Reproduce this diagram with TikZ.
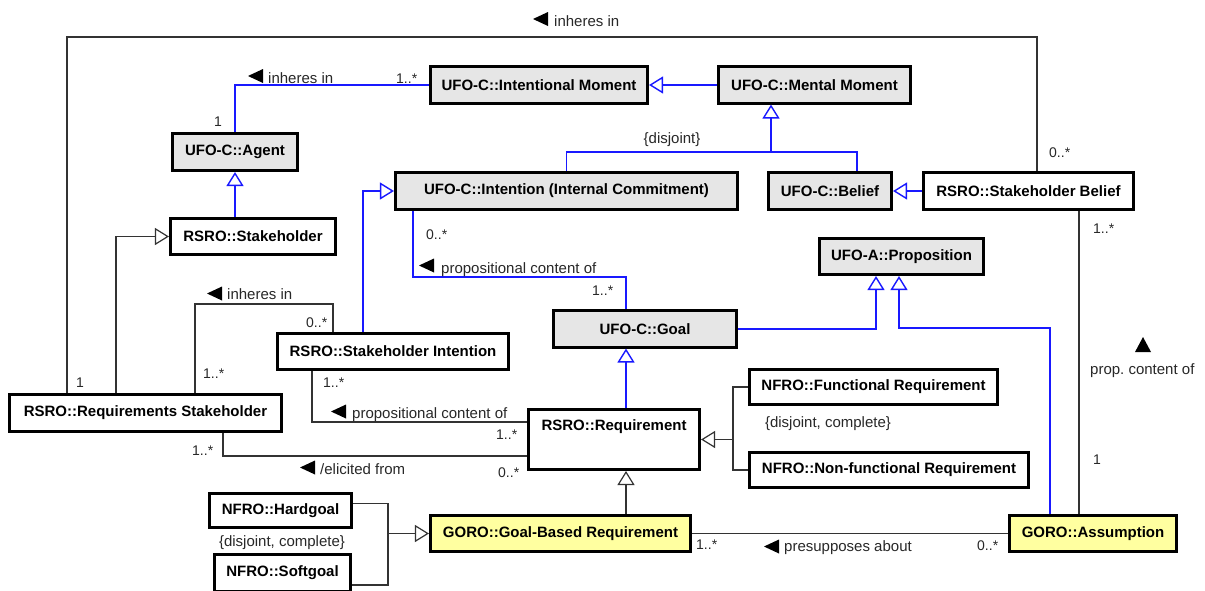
\documentclass[tikz,border=0pt]{standalone}
\usepackage{fontspec}
\setmainfont{Liberation Sans}
\usetikzlibrary{arrows.meta}
\definecolor{umlblue}{RGB}{25,25,255}
\definecolor{boxgray}{RGB}{230,230,230}
\definecolor{goroyellow}{RGB}{255,255,160}
\definecolor{linegray}{RGB}{51,51,51}
\definecolor{textgray}{RGB}{40,40,40}
\frenchspacing

\begin{document}
\begin{tikzpicture}[x=1pt,y=-1pt,
  cls/.style={draw=black, line width=2.6pt, inner sep=0pt, font=\bfseries\fontsize{15}{18}\selectfont, text=black},
  ufo/.style={cls, fill=boxgray},
  rsro/.style={cls, fill=white},
  goro/.style={cls, fill=goroyellow},
  bl/.style={draw=umlblue, line width=1.4pt},
  dk/.style={draw=linegray, line width=1.2pt},
  gen/.style={-{Triangle[open, length=14pt, width=17pt, fill=white]}},
  lbl/.style={inner sep=0pt, text=textgray, font=\fontsize{15}{18}\selectfont},
  mult/.style={inner sep=0pt, text=textgray, font=\fontsize{14}{17}\selectfont},
  ltri/.pic={\fill[black] (0,0) -- (15,-7) -- (15,7) -- cycle;},
  utri/.pic={\fill[black] (0,-7.5) -- (8,7.5) -- (-8,7.5) -- cycle;},
]
\fill[white] (0,0) rectangle (1205,590);
\useasboundingbox (0,0) rectangle (1205,590);
\clip (0,0) rectangle (1205,590);

% ---------- classes ----------
\node[ufo, minimum width=217.5, minimum height=36.5] (im) at (539,85) {UFO-C::Intentional Moment};
\node[ufo, minimum width=192.5, minimum height=36.5] (mm) at (814.5,85) {UFO-C::Mental Moment};
\node[ufo, minimum width=124.5, minimum height=37.5] (agent) at (235,152) {UFO-C::Agent};
\node[ufo, minimum width=342.5, minimum height=37.5] (intention) at (566.5,191) {UFO-C::Intention (Internal Commitment)};
\node[ufo, minimum width=123.5, minimum height=36.5] (belief) at (830,191) {UFO-C::Belief};
\node[rsro, minimum width=210.5, minimum height=36.5] (sbelief) at (1028.5,191) {RSRO::Stakeholder Belief};
\node[rsro, minimum width=165.5, minimum height=36.5] (stake) at (253,236.5) {RSRO::Stakeholder};
\node[ufo, minimum width=164.5, minimum height=36.5] (prop) at (901.5,256.5) {UFO-A::Proposition};
\node[ufo, minimum width=183.5, minimum height=36.5] (goal) at (645,329) {UFO-C::Goal};
\node[rsro, minimum width=231.5, minimum height=36.5] (sint) at (393,351.5) {RSRO::Stakeholder Intention};
\node[rsro, minimum width=272.5, minimum height=37.5] (rstake) at (145.5,413) {RSRO::Requirements Stakeholder};
\node[rsro, minimum width=248.5, minimum height=35.5] (func) at (873.5,387) {NFRO::Functional Requirement};
\node[rsro, minimum width=279.5, minimum height=35.5] (nonfunc) at (889,470) {NFRO::Non-functional Requirement};
\node[rsro, minimum width=171.5, text height=20.7, text depth=39.7] (req) at (614,439.5) {RSRO::Requirement};
\node[goro, minimum width=260.5, minimum height=36.5] (gbr) at (560.5,533.5) {GORO::Goal-Based Requirement};
\node[goro, minimum width=167.5, minimum height=36.5] (assum) at (1093,533.5) {GORO::Assumption};
\node[rsro, minimum width=142.5, minimum height=34.5] (hard) at (280.5,510.5) {NFRO::Hardgoal};
\node[rsro, minimum width=136.5, minimum height=37.5] (soft) at (282.5,573) {NFRO::Softgoal};

% ---------- UFO generalizations and associations (blue) ----------
\draw[bl] (agent.north) |- (im.west);
\draw[bl, gen] (mm.west) -- (im.east);
\coordinate (dj) at (771,152);
\draw[bl] (intention.north) |- (dj) -| ([xshift=27]belief.north);
\draw[bl, gen] (dj) -- (dj |- mm.south);
\draw[bl, gen] (sbelief.west) -- (belief.east);
\draw[bl, gen] (stake.north -| agent.south) -- (agent.south);
\draw[bl, gen] ([xshift=-30]sint.north) |- (intention.west);
\draw[bl] ([xshift=-153.5]intention.south) -- ++(0,66) -| ([xshift=-19]goal.north);
\draw[bl, gen] ([xshift=12]req.north) -- ([xshift=-19]goal.south);
\draw[bl, gen] (goal.east) -| ([xshift=-25.5]prop.south);
\draw[bl, gen] ([xshift=-43]assum.north) -- ++(0,-186) -| ([xshift=-2.5]prop.south);

% ---------- RSRO / NFRO / GORO relations (black) ----------
\draw[dk] ([xshift=-78.5]rstake.north) -- ++(0,-356) -| ([xshift=8.5]sbelief.north);
\draw[dk, gen] ([xshift=-29.5]rstake.north) |- (stake.west);
\draw[dk] ([xshift=49.5]rstake.north) -- ++(0,-89) -| ([xshift=-60]sint.north);
\draw[dk] ([xshift=50.5]sbelief.south) -- ([xshift=50.5]sbelief.south |- assum.north);
\draw[dk] ([xshift=-81]sint.south) |- ([yshift=17.5]req.west);
\draw[dk] ([xshift=77.5]rstake.south) |- ([yshift=-16.5]req.west);
\coordinate (fj) at (733,439.5);
\draw[dk] (func.west) -| (fj) |- (nonfunc.west);
\draw[dk, gen] (fj) -- (req.east);
\draw[dk, gen] ([xshift=65.5]gbr.north) -- ([xshift=12]req.south);
\coordinate (hj) at (388,533.5);
\draw[dk] ([yshift=7]hard.east) -| (hj) |- ([yshift=-12]soft.east);
\draw[dk, gen] (hj) -- (gbr.west);
\draw[dk] (gbr.east) -- (assum.west);

% ---------- role names, reading directions, multiplicities ----------
\pic at (533,19) {ltri};
\node[lbl, anchor=base west] (tInh) at (554,26) {inheres in};
\pic at (248,76) {ltri};
\node[lbl, anchor=base west] (aInh) at (268,83) {inheres in};
\node[mult, anchor=base] (aOne) at (218,126) {1};
\node[mult, anchor=base west] (imMany) at (396,83) {1..*};
\node[lbl] (disj) at (672,140) {\{disjoint\}};
\node[mult, anchor=base west] (sbZero) at (1049,157) {0..*};
\node[mult, anchor=base west] (inZero) at (426,239) {0..*};
\pic at (419,265.5) {ltri};
\node[lbl, anchor=base west] (pcUp) at (441,273) {propositional content of};
\node[mult, anchor=base west] (goalMany) at (592,295) {1..*};
\node[mult, anchor=base west] (sbMany) at (1093,233) {1..*};
\pic at (1143,344.5) {utri};
\node[lbl, anchor=base west] (pcR) at (1090,374) {prop. content of};
\node[mult, anchor=base west] (asOne) at (1093,464) {1};
\pic at (207,293.5) {ltri};
\node[lbl, anchor=base west] (siInh) at (227,299) {inheres in};
\node[mult, anchor=base west] (siZero) at (306,327) {0..*};
\node[mult, anchor=base west] (rsMany) at (203,378) {1..*};
\node[mult, anchor=base west] (rsOne) at (76,387) {1};
\node[mult, anchor=base west] (siMany) at (323,387) {1..*};
\pic at (331,411.5) {ltri};
\node[lbl, anchor=base west] (pcLow) at (352,418) {propositional content of};
\node[mult, anchor=base west] (reqMany) at (496,439) {1..*};
\node[mult, anchor=base west] (elMany) at (192,455) {1..*};
\pic at (300,467.5) {ltri};
\node[lbl, anchor=base west] (elic) at (320,474) {/elicited from};
\node[mult, anchor=base west] (reqZero) at (498,477) {0..*};
\node[lbl] (djR) at (828,424) {\{disjoint, complete\}};
\node[lbl] (djL) at (282,543) {\{disjoint, complete\}};
\node[mult, anchor=base west] (gbrMany) at (696,549) {1..*};
\pic at (764,546.5) {ltri};
\node[lbl, anchor=base west] (presup) at (784,551) {presupposes about};
\node[mult, anchor=base west] (asZero) at (977,550) {0..*};
\end{tikzpicture}
\end{document}
